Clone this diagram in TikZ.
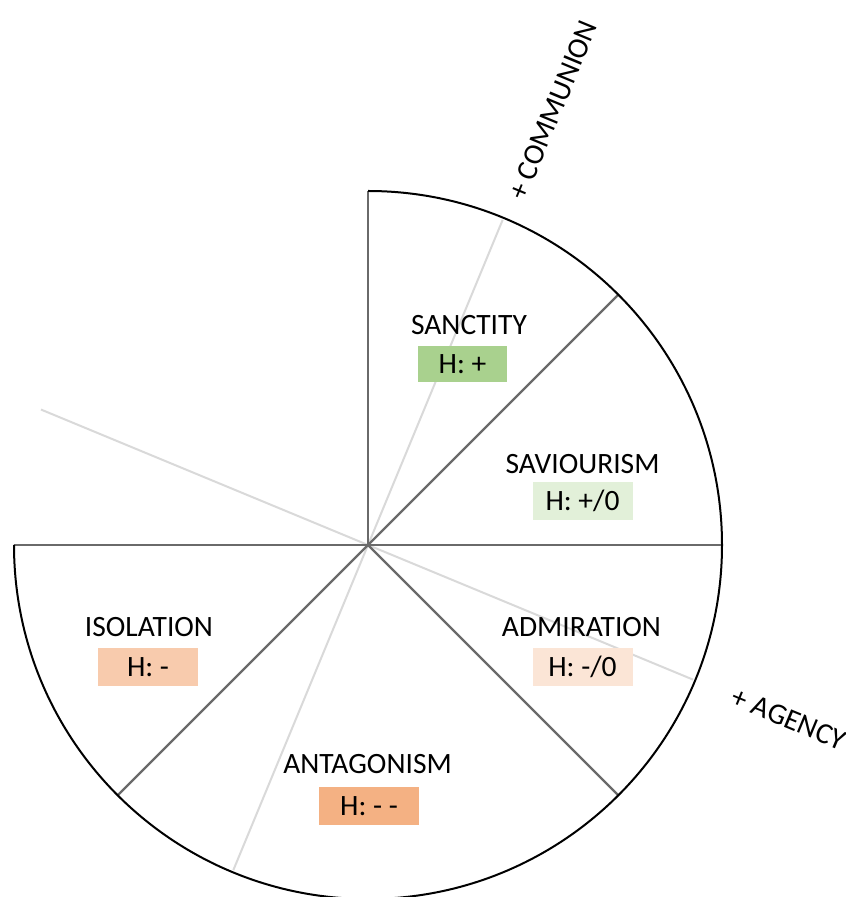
\documentclass[tikz,border=0pt]{standalone}
\usepackage{fontspec}
\setmainfont{Carlito}
\definecolor{spokegray}{HTML}{6A6A6A}
\definecolor{axisgray}{HTML}{D9D9D9}
\definecolor{hplus}{HTML}{A9D18E}
\definecolor{hplusz}{HTML}{E2F0D9}
\definecolor{hminusz}{HTML}{FBE5D6}
\definecolor{hminus}{HTML}{F8CBAD}
\definecolor{hminusminus}{HTML}{F4B183}
\begin{document}
\begin{tikzpicture}[x=1pt,y=1pt,
  lbl/.style={font=\fontsize{29.5}{35}\selectfont, inner sep=0pt},
  hbox/.style={font=\fontsize{29.5}{35}\selectfont, inner sep=0pt,
    text height=19pt, text depth=0pt, minimum width=100pt, minimum height=38pt},
  axisline/.style={draw=axisgray, line width=2pt},
  spoke/.style={draw=spokegray, line width=2.2pt},
  rim/.style={draw=black, line width=2pt}]
\useasboundingbox (0,0) rectangle (846,897);
\coordinate (O) at (368,352);

% agency / communion axes (light)
\path (O) ++(-22.5:352) coordinate (agP) (O) ++(157.5:354) coordinate (agN);
\path (O) ++(67.5:352) coordinate (coP) (O) ++(-112.5:352) coordinate (coN);
\draw[axisline] (agN) -- (agP);
\draw[axisline] (coN) -- (coP);

% sector boundaries
\foreach \a/\n in {90/s1,45/s2,0/s3,-45/s4,-135/s5,180/s6}{
  \path (O) ++(\a:354) coordinate (\n);
  \draw[spoke] (O) -- (\n);
}

% outer rim: three quarters of the circle
\draw[rim] (s1) arc[start angle=90, end angle=-180, radius=354];

% sector labels
\node[lbl] (sanct) at (469,571.5) {SANCTITY};
\node[hbox, fill=hplus, minimum width=89pt, minimum height=36pt] (hsanct) at (462.5,533) {H: +};

\node[lbl] (savio) at (582.5,432.5) {SAVIOURISM};
\node[hbox, fill=hplusz] (hsavio) at (582.5,396) {H: +/0};

\node[lbl] (admir) at (581.5,269.5) {ADMIRATION};
\node[hbox, fill=hminusz] (hadmir) at (582.5,229.5) {H: -/0};

\node[lbl] (isol) at (149,269.5) {ISOLATION};
\node[hbox, fill=hminus] (hisol) at (148,229.5) {H: -};

\node[lbl] (antag) at (367.5,133) {ANTAGONISM};
\node[hbox, fill=hminusminus] (hantag) at (369,91) {H: - -};

% axis labels
\node[lbl, rotate=67.5] (comm) at (553,787) {+ COMMUNION};
\node[lbl, rotate=-22.5] (agency) at (789,178) {+ AGENCY};
\end{tikzpicture}
\end{document}
